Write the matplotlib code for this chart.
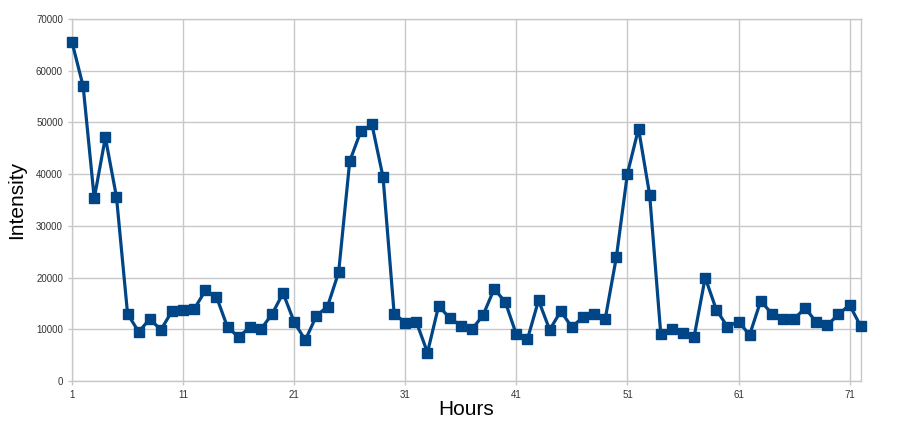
import matplotlib
matplotlib.use("Agg")
import numpy as np
from matplotlib import pyplot as plt

plt.rcParams["font.family"] = ["Liberation Sans", "DejaVu Sans"]

# hourly intensity readings
hours = np.arange(1, 73)
intensity = [
    65500, 57000, 35300, 47100, 35600, 13000, 9500, 12000, 9900, 13500,
    13700, 13900, 17500, 16300, 10400, 8500, 10400, 10000, 12900, 17000,
    11400, 7900, 12600, 14400, 21000, 42500, 48300, 49600, 39400, 13000,
    11300, 11400, 5500, 14500, 12200, 10700, 10000, 12700, 17800, 15300,
    9000, 8100, 15600, 9900, 13500, 10400, 12400, 12900, 12000, 23900,
    40100, 48800, 36000, 9100, 10000, 9300, 8500, 20000, 13800, 10500,
    11500, 8900, 15500, 13000, 12000, 12000, 14100, 11400, 10800, 12900,
    14700, 10600,
]
x_ticks = [1, 11, 21, 31, 41, 51, 61, 71]
y_ticks = list(range(0, 70001, 10000))

fig = plt.figure(figsize=(9.06, 4.21), dpi=100)
ax = fig.add_axes([0.0795, 0.095, 0.8705, 0.86])

ax.plot(hours, intensity, color="#004586", linewidth=2.3,
        marker="s", markersize=7, zorder=3, clip_on=False)

ax.set_xlim(1, 72)
ax.set_ylim(0, 70000)
ax.set_xticks(x_ticks)
ax.set_yticks(y_ticks)
ax.grid(True, color="#c8c8c8", linewidth=1.0)
ax.set_axisbelow(True)

for side in ["left", "right", "top", "bottom"]:
    ax.spines[side].set_color("#c8c8c8")
    ax.spines[side].set_linewidth(1.0)
ax.tick_params(axis="both", colors="#c8c8c8", length=3, width=1.0,
               labelsize=7, labelcolor="#333333")

ax.set_xlabel("Hours", fontsize=15, labelpad=0)
ax.set_ylabel("Intensity", fontsize=15, labelpad=7)

fig.savefig("out.png", dpi=100)
